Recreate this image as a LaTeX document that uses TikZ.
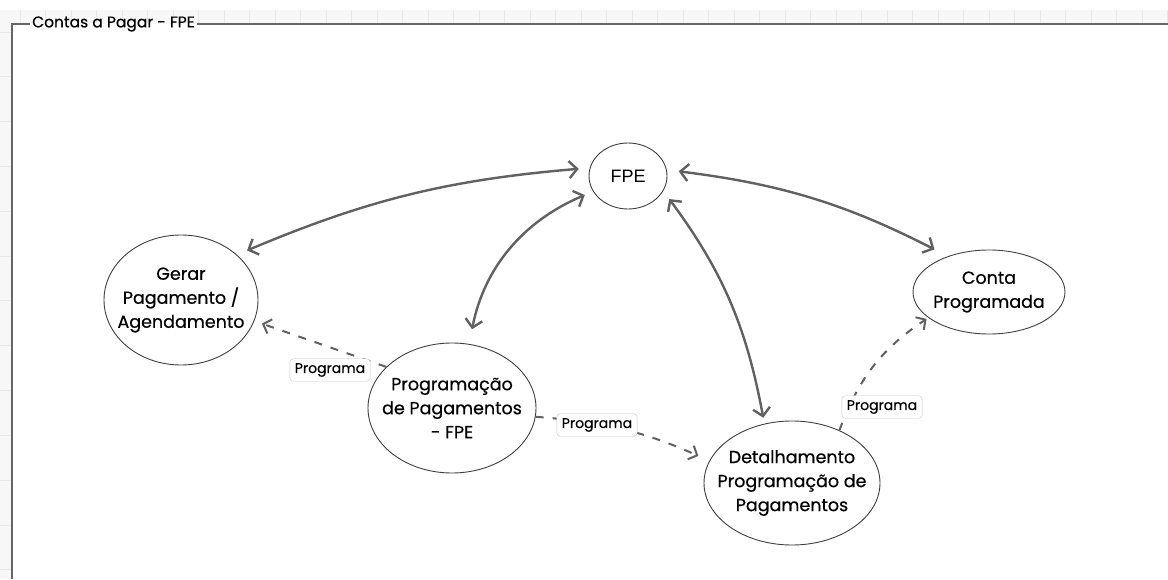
\documentclass[tikz,border=0pt]{standalone}
\usepackage{fontspec}
\setmainfont{Poppins}[FakeBold=0.5]
\newfontfamily\fpefont{Liberation Sans}
\usetikzlibrary{shapes.geometric,arrows.meta}

\tikzset{
  tela/.style={ellipse,draw=black!75,line width=0.9pt,inner sep=0pt},
  texto/.style={align=center,font=\fontsize{17.5}{24}\selectfont},
  fluxo/.style={draw=black!62,line width=2.4pt,line cap=round,
    {Straight Barb[length=8pt,width=17pt]}-{Straight Barb[length=8pt,width=17pt]}},
  programa/.style={draw=black!62,line width=2pt,dash pattern=on 8pt off 9pt,
    -{Straight Barb[length=7pt,width=15pt]}},
  rotulo/.style={draw=black!22,fill=white,rounded corners=3.5pt,inner xsep=5pt,
    inner ysep=4.5pt,font=\fontsize{14}{16}\selectfont},
}

\begin{document}
\begin{tikzpicture}[x=1pt,y=1pt]
\useasboundingbox (0,0) rectangle (1168,579);
\fill[white] (0,0) rectangle (1168,579);
%% rulers
\fill[black!3] (0,555) rectangle (1168,569);
\fill[black!3] (0,0) rectangle (12,555);
\foreach \i in {0,...,45}
  \draw[black!9,line width=0.6pt] (20+25.5*\i,556) -- (20+25.5*\i,569);
\foreach \j in {0,...,12}
  \draw[black!9,line width=0.6pt] (0,547-44.8*\j) -- (11,547-44.8*\j);
%% frame
\node[anchor=west,inner sep=2pt,font=\fontsize{15.5}{17}\selectfont] (titulo) at (30,555) {Contas a Pagar - FPE};
\draw[black!60,line width=1.3pt] (12,0) |- (titulo.west);
\draw[black!60,line width=1.3pt] (titulo.east) -- (1168,555);
%% screens
\node[tela,minimum width=78pt,minimum height=66pt,font=\fpefont\fontsize{18}{20}\selectfont] (fpe) at (628,403) {FPE};
\node[tela,minimum width=154pt,minimum height=130pt,
  label={[texto]center:Gerar\\Pagamento /\\Agendamento}] (gerar) at (181,279) {};
\node[tela,minimum width=168pt,minimum height=130pt,
  label={[texto]center:Programação\\de Pagamentos\\- FPE}] (prog) at (452,171) {};
\node[tela,minimum width=176pt,minimum height=124pt,
  label={[texto]center:Detalhamento\\Programação de\\Pagamentos}] (detal) at (792,96) {};
\node[tela,minimum width=152pt,minimum height=84pt,
  label={[texto]center:Conta\\Programada}] (conta) at (989,287) {};
%% navigation
\draw[fluxo,shorten <=11pt,shorten >=11pt] (fpe.168) to[bend right=9] (gerar.39);
\draw[fluxo,shorten <=9pt,shorten >=15pt] (fpe.-156) to[bend right=28] (prog.75);
\draw[fluxo,shorten <=10pt,shorten >=6pt] (fpe.-23) to[bend left=13] (detal.115);
\draw[fluxo,shorten <=12pt,shorten >=15pt] (fpe.9) to[bend left=10] (conta.139);
%
\draw[programa,shorten >=8pt] (prog.148) -- (gerar.-16);
\draw[programa,shorten >=12pt] (prog.-6) to[bend left=10] (detal.165);
\draw[programa,shorten >=2pt] (detal.48) to[bend left=18] (conta.-157);
\node[rotulo] (p1) at (330,209) {Programa};
\node[rotulo] (p2) at (597,154) {Programa};
\node[rotulo] (p3) at (882,172) {Programa};
\end{tikzpicture}
\end{document}
